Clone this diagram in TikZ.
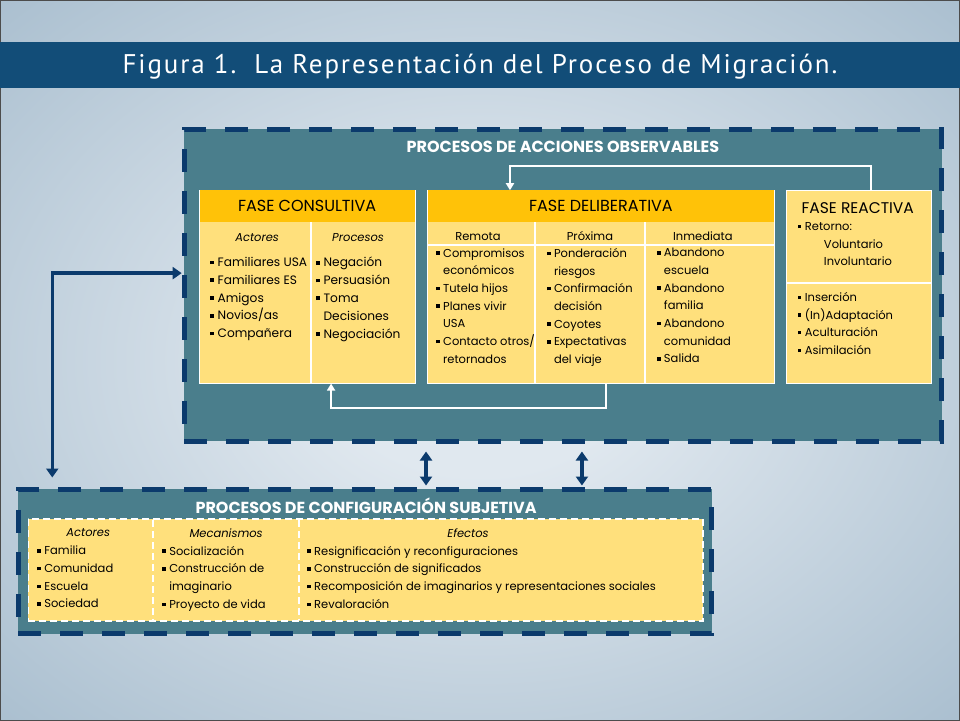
\documentclass[tikz,border=0pt]{standalone}
\usepackage{fontspec}
\setmainfont{Poppins}
\newfontfamily\titlefont[LetterSpace=7]{PT Sans}
\usetikzlibrary{arrows.meta}

\definecolor{bglight}{HTML}{E0E8EF}
\definecolor{bgdark}{HTML}{6389A6}
\definecolor{bandblue}{HTML}{124D78}
\definecolor{navyblue}{HTML}{0B3A6C}
\definecolor{frameteal}{HTML}{4A7E8C}
\definecolor{headorange}{HTML}{FFC208}
\definecolor{phaseyellow}{HTML}{FFE07C}

\pgfdeclareradialshading{slidebg}{\pgfpoint{0bp}{0bp}}{color(0bp)=(bglight); color(8bp)=(bglight); color(72bp)=(bgdark)}

\newcommand{\bul}{\makebox[0.6em][l]{\rule[0.2em]{0.3em}{0.3em}}}
\newcommand{\ind}{\hspace*{0.6em}}

\tikzstyle{frame}=[draw=navyblue, line width=5pt, dash pattern=on 23pt off 19pt, fill=frameteal, inner sep=0pt]
\tikzstyle{frametitle}=[text=white, font=\fontsize{16}{18}\selectfont\bfseries]
\tikzstyle{phase}=[draw=white, line width=1pt, fill=phaseyellow, inner sep=0pt]
\tikzstyle{head}=[fill=headorange, inner sep=0pt, font=\fontsize{16}{18}\selectfont]
\tikzstyle{colhead}=[font=\fontsize{11.5}{13}\selectfont]
\tikzstyle{colheadit}=[font=\fontsize{11.5}{13}\selectfont\itshape]
\tikzstyle{list}=[anchor=north west, align=left, inner sep=0pt, font=\fontsize{11.5}{17.7}\selectfont]
\tikzstyle{sep}=[white, line width=1.5pt]
\tikzstyle{dsep}=[white, line width=1.5pt, dash pattern=on 7pt off 4pt]
\tikzstyle{loop}=[white, line width=2pt, -{Triangle[length=7pt,width=8pt]}]
\tikzstyle{link}=[navyblue, line width=3.5pt, {Triangle[length=9pt,width=12pt]}-{Triangle[length=9pt,width=12pt]}]

\begin{document}
\begin{tikzpicture}[x=1pt, y=-1pt]
      % slide background and title band
      \shade[shading=slidebg, draw=black!70, line width=0.6pt] (0,0) rectangle (960,720);
      \fill[bandblue] (0,42) rectangle (960,88);
      \node[text=white, font=\titlefont\fontsize{27}{30}\selectfont] (title) at (480,66)
        {Figura 1.\ \ La Representación del Proceso de Migración.};

      % upper frame
      \node[frame, minimum width=758, minimum height=312] (obs) at (563,285) {};
      \node[frametitle] (obstitle) at (563,147) {PROCESOS DE ACCIONES OBSERVABLES};

      \node[phase, minimum width=216, minimum height=193] (cons) at (307,286.5) {};
      \node[phase, minimum width=348, minimum height=193] (delib) at (601,286.5) {};
      \node[phase, minimum width=145, minimum height=193] (react) at (859.5,286.5) {};
      \node[head, minimum width=215, minimum height=31.5] (conshead) at (307,206) {FASE CONSULTIVA};
      \node[head, minimum width=347, minimum height=31.5] (delibhead) at (601,206) {FASE DELIBERATIVA};
      \node[font=\fontsize{15.5}{18}\selectfont] (reacthead) at (858,208) {FASE REACTIVA};

      \draw[sep] (311,222) -- (311,382.5);
      \draw[sep] (535,222) -- (535,382.5);
      \draw[sep] (645,222) -- (645,382.5);
      \draw[sep] (427.5,245) -- (774.5,245);
      \draw[sep] (787.5,283) -- (931.5,283);

      \node[colheadit] (actores) at (257,237) {Actores};
      \node[colheadit] (procesos) at (358,237) {Procesos};
      \node[colhead] (remota) at (478,236) {Remota};
      \node[colhead] (proxima) at (590,236) {Próxima};
      \node[colhead] (inmediata) at (703,236) {Inmediata};

      \node[list, font=\fontsize{12.2}{17.8}\selectfont] (actlist) at (210,257)
        {\bul Familiares USA\\ \bul Familiares ES\\ \bul Amigos\\ \bul Novios/as\\ \bul Compañera};
      \node[list, font=\fontsize{12.2}{17.8}\selectfont] (proclist) at (316,257)
        {\bul Negación\\ \bul Persuasión\\ \bul Toma\\ \ind Decisiones\\ \bul Negociación};
      \node[list] (remlist) at (436,248)
        {\bul Compromisos\\ \ind económicos\\ \bul Tutela hijos\\ \bul Planes vivir\\ \ind USA\\ \bul Contacto otros/\\ \ind retornados};
      \node[list] (proxlist) at (547,248)
        {\bul Ponderación\\ \ind riesgos\\ \bul Confirmación\\ \ind decisión\\ \bul Coyotes\\ \bul Expectativas\\ \ind del viaje};
      \node[list] (inmlist) at (657,248)
        {\bul Abandono\\ \ind escuela\\ \bul Abandono\\ \ind familia\\ \bul Abandono\\ \ind comunidad\\ \bul Salida};
      \node[list] (retlist) at (798,222)
        {\bul Retorno:\\ \hspace*{26pt}Voluntario\\ \hspace*{26pt}Involuntario};
      \node[list] (adaptlist) at (798,292)
        {\bul Inserción\\ \bul (In)Adaptación\\ \bul Aculturación\\ \bul Asimilación};

      \draw[loop] ([xshift=11.5]react.north) -- ++(0,-24) -| ([xshift=-91]delibhead.north);
      \draw[loop] ([xshift=5]delib.south) -- ++(0,24) -| ([xshift=24]cons.south);

      % lower frame
      \node[frame, minimum width=694, minimum height=145] (subj) at (365,561.5) {};
      \node[frametitle] (subjtitle) at (366,506)
        {PROCESOS DE CONFIGURACIÓN SUBJETIVA};
      \node[fill=phaseyellow, draw=white, line width=1.5pt, dash pattern=on 7pt off 4pt,
        minimum width=675, minimum height=102, inner sep=0pt] (subjbody) at (365.5,570) {};
      \draw[dsep] (153,520) -- (153,620);
      \draw[dsep] (299,520) -- (299,620);

      \node[colheadit] (sactores) at (88,533) {Actores};
      \node[colheadit] (mecanismos) at (226,533) {Mecanismos};
      \node[colheadit] (efectos) at (468,533) {Efectos};

      \node[list] (sactlist) at (37,546)
        {\bul Familia\\ \bul Comunidad\\ \bul Escuela\\ \bul Sociedad};
      \node[list] (meclist) at (162,546)
        {\bul Socialización\\ \bul Construcción de\\ \ind imaginario\\ \bul Proyecto de vida};
      \node[list] (eflist) at (307,546)
        {\bul Resignificación y reconfiguraciones\\ \bul Construcción de significados\\
         \bul Recomposición de imaginarios y representaciones sociales\\ \bul Revaloración};

      % links between the frames
      \draw[link] ([yshift=12]obs.west) -| ([xshift=-313,yshift=9]subj.north);
      \draw[link, shorten <=8pt, shorten >=1pt] ([xshift=-137]obs.south) -- ([xshift=61]subj.north);
      \draw[link, shorten <=8pt, shorten >=1pt] ([xshift=19]obs.south) -- ([xshift=217]subj.north);
    \end{tikzpicture}
\end{document}
